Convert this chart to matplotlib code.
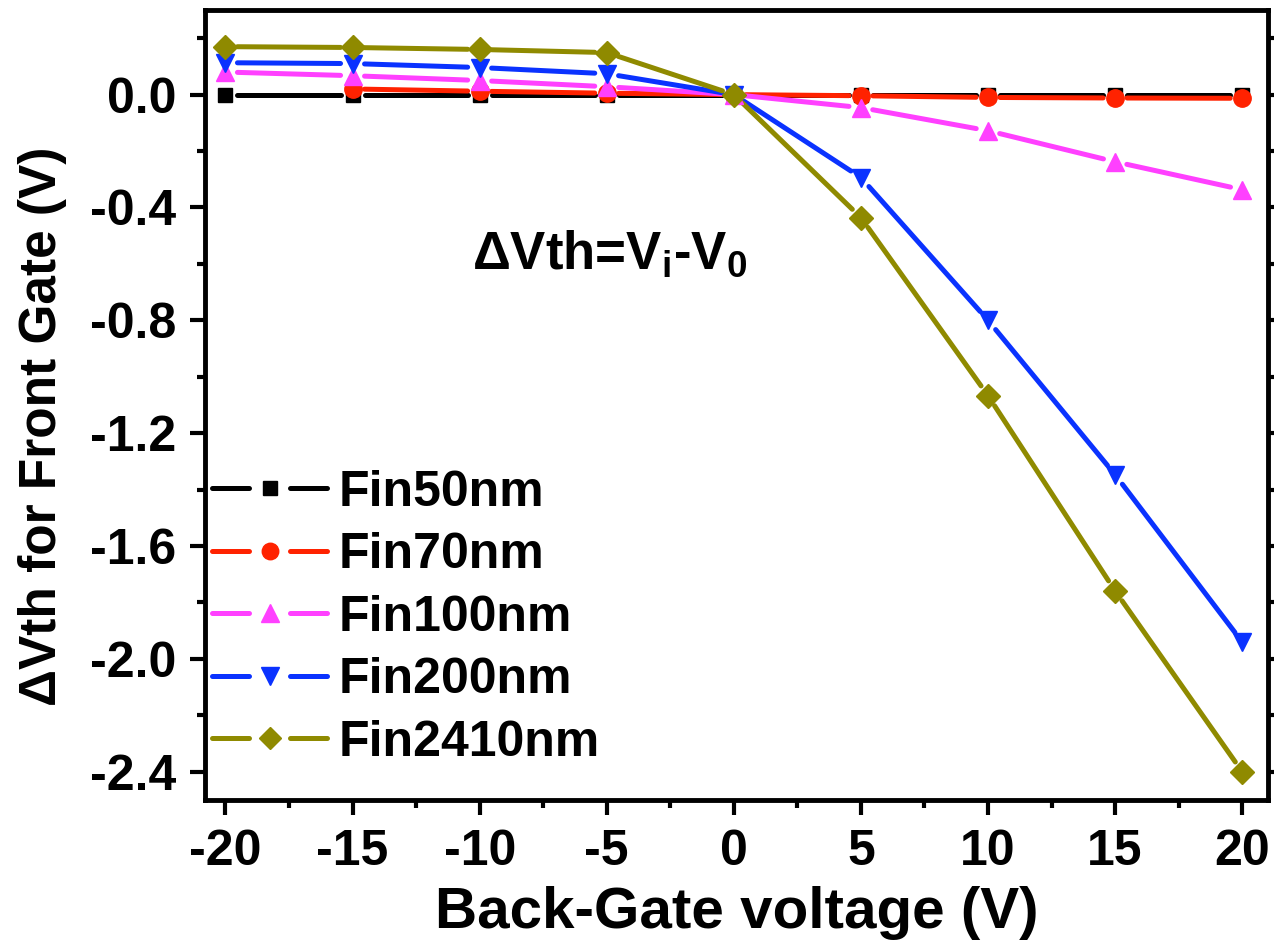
"""
Back-gate dependence of front-gate threshold voltage shift.
"""
import matplotlib
matplotlib.use("Agg")
import matplotlib.pyplot as plt
import numpy as np
from matplotlib.lines import Line2D

plt.rcParams["font.family"] = ["Liberation Sans", "DejaVu Sans"]
plt.rcParams["font.weight"] = "bold"
plt.rcParams["mathtext.default"] = "regular"
plt.rcParams["axes.unicode_minus"] = False

vbg = [-20, -15, -10, -5, 0, 5, 10, 15, 20]
labels = ["Fin50nm", "Fin70nm", "Fin100nm", "Fin200nm", "Fin2410nm"]
dvth_50 = [0.0, 0.0, 0.0, 0.0, 0.0, 0.0, 0.0, 0.0, 0.0]
dvth_70 = [None, 0.02, 0.012, 0.005, 0.0, -0.004, -0.01, -0.012, -0.013]
dvth_100 = [0.08, 0.067, 0.05, 0.028, 0.0, -0.046, -0.128, -0.238, -0.337]
dvth_200 = [0.113, 0.11, 0.096, 0.074, 0.0, -0.294, -0.80, -1.347, -1.94]
dvth_2410 = [0.17, 0.167, 0.16, 0.149, 0.0, -0.436, -1.067, -1.759, -2.40]
series = [dvth_50, dvth_70, dvth_100, dvth_200, dvth_2410]
colors = ["#000000", "#ff2200", "#ff40ff", "#0a32ff", "#8f8a00"]
markers = ["s", "o", "^", "v", "D"]
msizes = [10.5, 12.5, 13, 13, 12]

fig = plt.figure(figsize=(12.74, 9.49), dpi=100)
ax = fig.add_axes([0.161, 0.157, 0.834, 0.8325])
ax.set_xlim(-20.8, 21.0)
ax.set_ylim(-2.5, 0.3)


def gapped_line(x, y, color, gap=12):
    # Origin style: line segments stop short of each marker
    pts = ax.transData.transform(np.column_stack([x, y]))
    inv = ax.transData.inverted()
    for p0, p1 in zip(pts[:-1], pts[1:]):
        d = p1 - p0
        length = np.hypot(*d)
        if length <= 2*gap:
            continue
        u = d/length
        seg = inv.transform(np.array([p0 + u*gap, p1 - u*gap]))
        ax.plot(seg[:, 0], seg[:, 1], color=color, lw=3.6,
                solid_capstyle="round", zorder=2)


handles = []
for vals, lab, c, m, ms in zip(series, labels, colors, markers, msizes):
    xs = [x for x, v in zip(vbg, vals) if v is not None]
    ys = [v for v in vals if v is not None]
    gapped_line(xs, ys, c)
    ax.plot(xs, ys, ls="none", marker=m, ms=ms, color=c, mec=c, zorder=3)
    handles.append(Line2D([], [], color=c, lw=3.6, marker=m, ms=ms*0.95,
                          dashes=(7.4, 8.2), dash_capstyle="round",
                          label=lab))

ax.legend(handles=handles, loc="upper left", bbox_to_anchor=(0.0066, 0.418),
          frameon=False, fontsize=36, handlelength=2.3, handletextpad=0.22,
          borderpad=0, borderaxespad=0, labelspacing=0.33, numpoints=1)

ax.text(0.251, 0.673, "ΔVth=V$_i$-V$_0$", transform=ax.transAxes,
        fontsize=38, fontweight="bold")

ax.set_xticks(vbg)
ax.set_xticks(np.arange(-17.5, 20, 5), minor=True)
ax.set_yticks([0.0, -0.4, -0.8, -1.2, -1.6, -2.0, -2.4])
ax.set_yticks([0.2, -0.2, -0.6, -1.0, -1.4, -1.8, -2.2], minor=True)
ax.set_yticklabels(["0.0", "-0.4", "-0.8", "-1.2", "-1.6", "-2.0", "-2.4"])
ax.tick_params(which="both", direction="out", width=3, right=True,
               labelsize=36)
ax.tick_params(which="major", length=11)
ax.tick_params(which="minor", length=6)
ax.tick_params(axis="y", pad=10)
ax.tick_params(axis="x", pad=10)
for sp in ax.spines.values():
    sp.set_linewidth(3.5)

ax.set_xlabel("Back-Gate voltage (V)", fontsize=42, fontweight="bold",
              labelpad=8)
ax.set_ylabel("ΔVth for Front Gate (V)", fontsize=37, fontweight="bold")
ax.yaxis.set_label_coords(-0.13, 0.473)

fig.savefig("out.png", dpi=100)
